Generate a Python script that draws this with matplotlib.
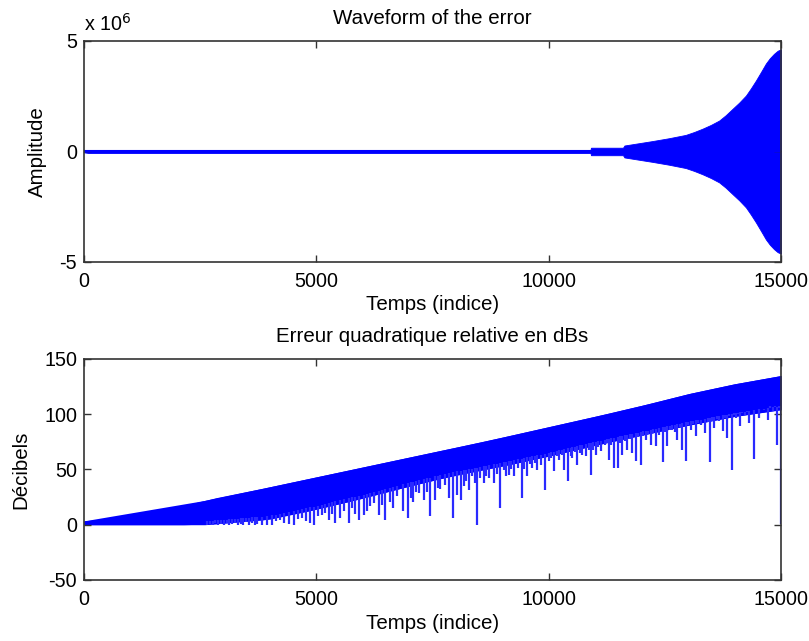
import numpy as np
import matplotlib
matplotlib.use("Agg")
import matplotlib.pyplot as plt

plt.rcParams['font.family'] = ['Liberation Sans', 'DejaVu Sans']
plt.rcParams['axes.unicode_minus'] = False

# ---- Top chart: envelope of the error waveform (amplitude in units of 1e6)
wave_t = [0, 100, 10900, 10910, 11600, 11630, 11870, 12230, 12590, 12950,
          13130, 13310, 13490, 13670, 13810, 13957, 14100, 14245, 14350,
          14460, 14570, 14675, 14760, 14850, 14930, 15000]
wave_amp = [0.04, 0.07, 0.07, 0.17, 0.17, 0.27, 0.35, 0.47, 0.60, 0.75,
            0.88, 1.03, 1.20, 1.40, 1.64, 1.93, 2.21, 2.53, 2.85,
            3.21, 3.60, 3.98, 4.22, 4.42, 4.56, 4.62]

# ---- Bottom chart: relative squared error (dB)
upper_t = [0, 700, 1450, 2150, 2850, 3850, 4800, 5750, 6700, 7650, 8550,
           9400, 10350, 11300, 12200, 13050, 14000, 15000]
upper_db = [3.5, 6, 11.5, 17.5, 24.5, 33, 41.5, 50, 58.5, 67, 75, 83, 92, 101,
            110, 119, 127.5, 135]
lower_t = [0, 2600, 4000, 5000, 6000, 7000, 8000, 9000, 10000, 11000, 12000,
           13000, 14000, 14950, 15000]
lower_db = [0, 0, 5, 14, 24, 35, 45, 53, 62, 72, 81, 90, 98, 104, 104]

spike_t = [2650, 2710, 2770, 2830, 2890, 2950, 3010, 3070, 3130, 3190, 3250,
           3310, 3370, 3430, 3490, 3550, 3610, 3670, 3730,
           3830, 3937, 4045, 4135, 4224, 4310, 4403, 4511, 4600, 4691, 4780,
           4870, 4942, 5030, 5122, 5190, 5265, 5340, 5409, 5517, 5600, 5696,
           5768, 5840, 5911, 6019, 6091, 6160, 6235, 6343, 6420, 6486, 6594,
           6660, 6738, 6867, 6968, 7030, 7083, 7140, 7205, 7313, 7390, 7456,
           7564, 7620, 7672, 7760, 7851, 7938, 8031, 8103, 8175, 8230, 8282,
           8354, 8410, 8462, 8530, 8605, 8660, 8713, 8821, 8880, 8943, 9036,
           9090, 9144, 9200, 9252, 9338, 9417, 9480, 9539, 9600, 9647, 9700,
           9755, 9830, 9913, 10007, 10060, 10114, 10170, 10222, 10280, 10330,
           10423, 10470, 10510, 10560, 10617, 10670, 10725, 10811, 10860,
           10905, 10960, 11012, 11060, 11120, 11206, 11250, 11300, 11350,
           11408, 11494, 11540, 11587, 11640, 11695, 11750, 11803, 11874,
           11930, 11982, 12040, 12090, 12140, 12197, 12250, 12305, 12377,
           12463, 12510, 12556, 12610, 12664, 12710, 12757, 12820, 12879,
           12951, 13000, 13059, 13110, 13167, 13220, 13275, 13368, 13420,
           13468, 13520, 13562, 13620, 13670, 13742, 13790, 13835, 13890,
           13936, 13980, 14029, 14080, 14122, 14170, 14223, 14270, 14316,
           14370, 14424, 14480, 14532, 14580, 14640, 14690, 14726, 14770,
           14819, 14860, 14905, 14960, 15000]
spike_db = [0, 1, 0, 1.5, 0, 0.5, 0, 1.5, 0, 0.5, 2, 0, 1, 0, 2.5, 0, 1.5,
            0, 1,
            0, 0, 0, 3, 4.5, 2, 1, 0, 5, 6, 3,
            1.5, 0, 8, 9, 11, 4.5, 10, 1.5, 6, 12, 1.5,
            15, 10, 4.5, 9, 12, 17, 19.6, 9, 18, 4.5, 21,
            15, 25.6, 12, 6, 24, 21, 30, 28.7, 22.6, 30, 7.5,
            22.6, 33, 32, 36, 24, 6, 27, 22, 34.7, 40, 31.7,
            43.7, 38, 0, 42, 37.7, 44, 42, 37.7, 46, 15, 49.8,
            44, 45, 50, 43.7, 51, 24, 50, 43.7, 55, 51, 56,
            49.8, 54, 31.7, 57.3, 60, 48.3, 62, 59, 63, 49.8,
            39.2, 62, 60.4, 66, 54.3, 65, 63.4, 62, 68,
            45, 68, 63.4, 70, 66.4, 72.4, 74, 59, 72,
            51.3, 51.3, 74, 63.3, 76, 67.9, 78, 64.8, 57.3,
            79, 54.3, 80, 76.9, 82, 72.4, 83, 70.9, 81.4,
            56.4, 84, 70.9, 86, 86, 84, 76.9, 88, 67.9,
            57.3, 90, 86, 91, 80, 92, 90.5, 83, 93,
            56.8, 94, 87.5, 96, 93.5, 84.5, 97, 78.4, 98,
            49.8, 99, 96.5, 100, 89, 101, 99.5, 102, 92,
            103, 59.6, 104, 96.5, 105, 104, 106, 95, 107,
            102.5, 107, 72.4, 106, 1]

x_ticks = [0, 5000, 10000, 15000]
top_yticks = [-5, 0, 5]
bot_yticks = [-50, 0, 50, 100, 150]

BLUE = '#0000ff'
TICK_FS = 14.2
LABEL_FS = 14.8
TITLE_FS = 14.8

fig = plt.figure(figsize=(8.09, 6.41), dpi=100)
ax1 = fig.add_axes([0.1038, 0.5913, 0.8616, 0.3448])
ax2 = fig.add_axes([0.1038, 0.0952, 0.8616, 0.3448])

# Top chart
wt = np.array(wave_t)
wa = np.array(wave_amp)
ax1.fill_between(wt, -wa, wa, color=BLUE, linewidth=0.6, edgecolor=BLUE)
ax1.plot([wave_t[0], wave_t[-1]], [0, 0], color=BLUE, linewidth=1.5)
ax1.set_xlim(0, 15000)
ax1.set_ylim(-5, 5)
ax1.set_yticks(top_yticks)
ax1.set_title('Waveform of the error', fontsize=TITLE_FS, pad=12.5)
ax1.set_xlabel('Temps (indice)', fontsize=LABEL_FS, labelpad=3)
ax1.set_ylabel('Amplitude', fontsize=LABEL_FS, labelpad=9)
ax1.text(0.0, 0.045, r'x 10$^{6}$', transform=ax1.transAxes +
         matplotlib.transforms.ScaledTranslation(0, 221 / 100, fig.dpi_scale_trans),
         fontsize=TICK_FS, ha='left', va='baseline')

# Bottom chart
st = np.array(spike_t)
sd = np.array(spike_db)
spike_top = np.interp(st, lower_t, lower_db) + 3
ax2.vlines(st, sd, spike_top, color='#2a2aff', linewidth=1.6)
ax2.fill_between(upper_t, np.interp(upper_t, lower_t, lower_db), upper_db,
                 color=BLUE, linewidth=0)
ax2.fill_between(lower_t, lower_db, np.interp(lower_t, upper_t, upper_db),
                 color=BLUE, linewidth=0)
ax2.set_xlim(0, 15000)
ax2.set_ylim(-50, 150)
ax2.set_yticks(bot_yticks)
ax2.set_title('Erreur quadratique relative en dBs', fontsize=TITLE_FS, pad=12)
ax2.set_xlabel('Temps (indice)', fontsize=LABEL_FS, labelpad=4)
ax2.set_ylabel('Décibels', fontsize=LABEL_FS, labelpad=10)

for ax in (ax1, ax2):
    ax.set_xticks(x_ticks)
    ax.tick_params(direction='in', length=5, width=1, top=True, right=True,
                   labelsize=TICK_FS, color='#333333')
    ax.tick_params(axis='x', pad=7)
    ax.tick_params(axis='y', pad=5)
    for sp in ax.spines.values():
        sp.set_linewidth(1.2)
        sp.set_color('#333333')

fig.savefig('out.png', dpi=100)
